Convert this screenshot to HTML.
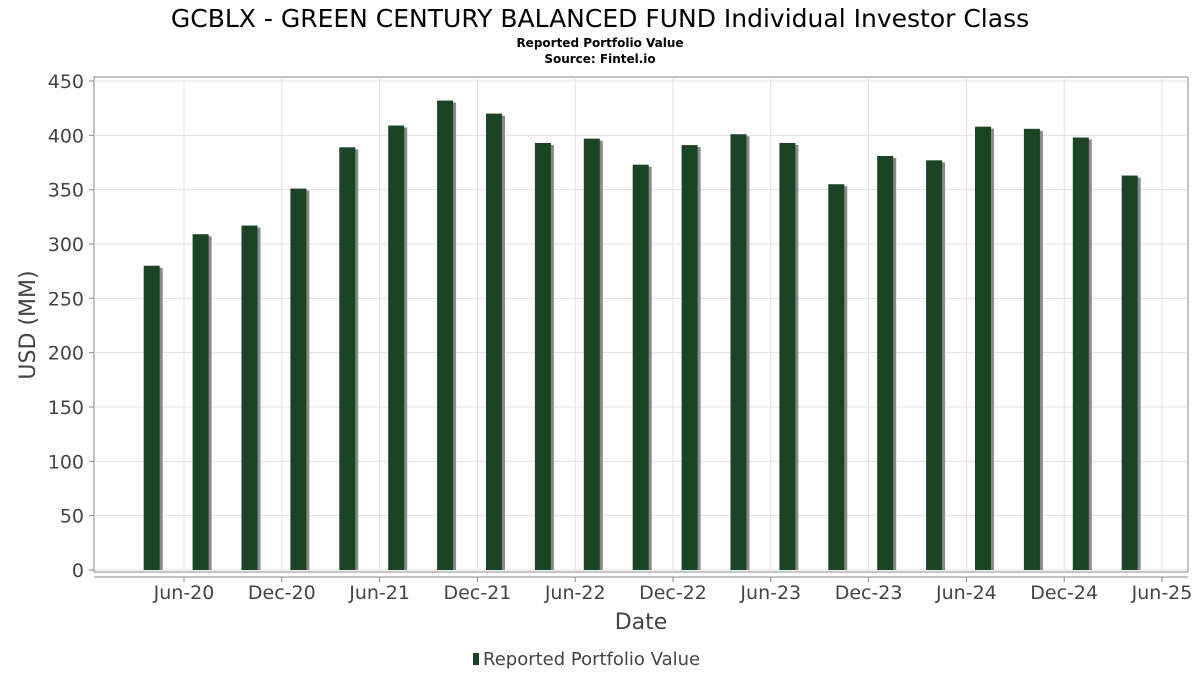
<!DOCTYPE html>
<html><head><meta charset="utf-8"><style>
body{margin:0;background:#fff;}
svg{display:block;font-family:"DejaVu Sans","Liberation Sans",sans-serif;}
</style></head><body>
<svg id="chart" width="1200" height="675" viewBox="0 0 1200 675">
<text x="600" y="27" text-anchor="middle" font-size="25" fill="#000">GCBLX - GREEN CENTURY BALANCED FUND Individual Investor Class</text>
<text x="600" y="47" text-anchor="middle" font-size="12" font-weight="bold" fill="#000">Reported Portfolio Value</text>
<text x="600" y="63" text-anchor="middle" font-size="12" font-weight="bold" fill="#000">Source: Fintel.io</text>
<rect x="94" y="77" width="1094" height="495" fill="#fff" stroke="#888"/>
<g id="grid"></g>
<g id="bars"></g>
<g id="axes"></g>
<text transform="translate(35,325) rotate(-90)" text-anchor="middle" font-size="22" fill="#444">USD (MM)</text>
<text x="641" y="629" text-anchor="middle" font-size="22" fill="#444">Date</text>
<g>
<rect x="473" y="653" width="6" height="12" fill="#1a4424"/>
<text x="483" y="665" font-size="18" fill="#444">Reported Portfolio Value</text>
</g>
</svg>
<script>
const values=[280,309,317,351,389,409,432,420,393,397,373,391,401,393,355,381,377,408,406,398,363];
const yTicks=[0,50,100,150,200,250,300,350,400,450];
const xTickLabels=["Jun-20","Dec-20","Jun-21","Dec-21","Jun-22","Dec-22","Jun-23","Dec-23","Jun-24","Dec-24","Jun-25"];
const NS="http://www.w3.org/2000/svg";
function y(v){return 570-v*(570-81)/450;}
function barX(i){return 143.7+i*48.9;}
function tickX(i){return 184+i*97.8;}
function mk(tag,attrs,parent){const e=document.createElementNS(NS,tag);for(const k in attrs)e.setAttribute(k,attrs[k]);document.getElementById(parent).appendChild(e);return e;}
yTicks.forEach(t=>{
 const g=mk('line',{x1:94,x2:1188,y1:y(t),y2:y(t),stroke:'#e0e0e0'},'grid');
 
 
 const tk=mk('line',{x1:89,x2:94,y1:y(t),y2:y(t),stroke:'#888'},'axes');
 
 
 const tx=mk('text',{x:84,y:y(t)+7,'text-anchor':'end','font-size':19,fill:'#444'},'axes');
 tx.textContent=t;
 
 
});
xTickLabels.forEach((l,i)=>{
 const g=mk('line',{x1:tickX(i),x2:tickX(i),y1:77,y2:572,stroke:'#e0e0e0'},'grid');
 
 
 const tk=mk('line',{x1:tickX(i),x2:tickX(i),y1:577,y2:582,stroke:'#888'},'axes');
 
 
 const tx=mk('text',{x:tickX(i),y:599,'text-anchor':'middle','font-size':19,fill:'#444'},'axes');
 tx.textContent=l;
 
 
});
const xl=mk('line',{x1:94,x2:1188,y1:577,y2:577,stroke:'#888'},'axes');


values.forEach((v,i)=>{
 const s=mk('rect',{x:barX(i)+3,y:y(v)+2,width:16,height:570-y(v)-2,fill:'#8a8a8a'},'bars');
 
 
 const b=mk('rect',{x:barX(i),y:y(v),width:16,height:570-y(v),fill:'#1a4424'},'bars');
 
 
});
</script>
</body></html>
